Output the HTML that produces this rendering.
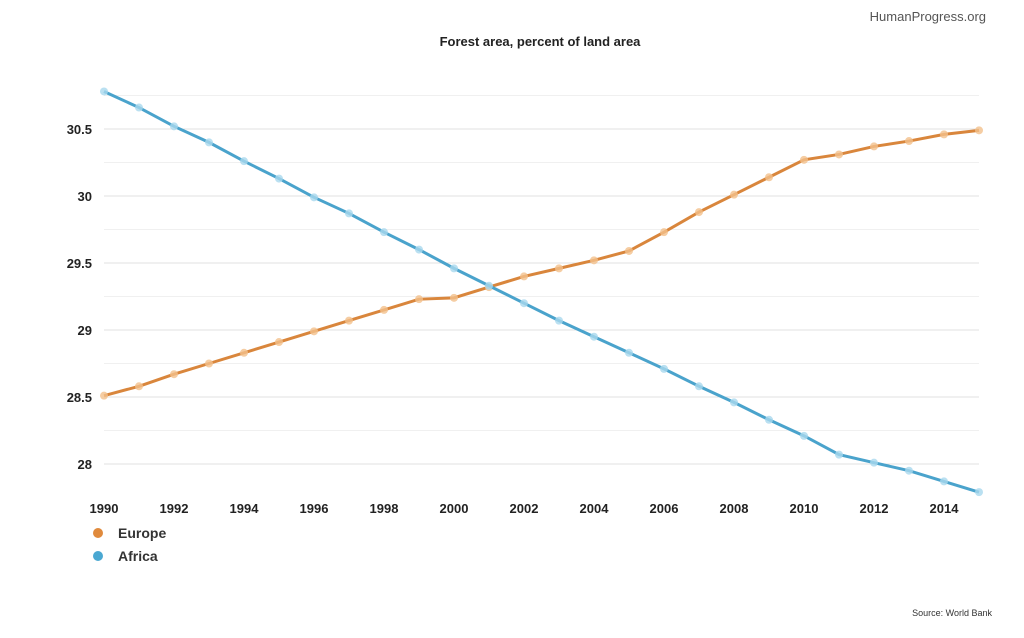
<!DOCTYPE html>
<html><head><meta charset="utf-8"><style>
body{margin:0;background:#fff;width:1024px;height:633px;overflow:hidden;font-family:"Liberation Sans",sans-serif}
</style></head><body>
<svg id="chart" width="1024" height="633" xmlns="http://www.w3.org/2000/svg">
<text x="986" y="21" text-anchor="end" font-size="13" fill="#555">HumanProgress.org</text>
<text x="540" y="46" text-anchor="middle" font-size="13" font-weight="bold" fill="#222">Forest area, percent of land area</text>
<g id="grid"></g><g id="axes"></g><g id="series"></g>
<g>
<circle cx="98" cy="533" r="5" fill="#e08a3c"/><text x="118" y="538" font-size="14" font-weight="bold" fill="#333">Europe</text>
<circle cx="98" cy="556" r="5" fill="#4aa8d2"/><text x="118" y="561" font-size="14" font-weight="bold" fill="#333">Africa</text>
</g>
<text x="992" y="616" text-anchor="end" font-size="9" fill="#333">Source: World Bank</text>
</svg>
<script>
const years=[1990,1991,1992,1993,1994,1995,1996,1997,1998,1999,2000,2001,2002,2003,2004,2005,2006,2007,2008,2009,2010,2011,2012,2013,2014,2015];
const europe=[28.51,28.58,28.67,28.75,28.83,28.91,28.99,29.07,29.15,29.23,29.24,29.32,29.40,29.46,29.52,29.59,29.73,29.88,30.01,30.14,30.27,30.31,30.37,30.41,30.46,30.49];
const africa=[30.78,30.66,30.52,30.40,30.26,30.13,29.99,29.87,29.73,29.60,29.46,29.33,29.20,29.07,28.95,28.83,28.71,28.58,28.46,28.33,28.21,28.07,28.01,27.95,27.87,27.79];
const yTicks=[28,28.5,29,29.5,30,30.5];
const yTickLabels=["28","28.5","29","29.5","30","30.5"];
const yMinor=[28.25,28.75,29.25,29.75,30.25,30.75];
const xTicks=[1990,1992,1994,1996,1998,2000,2002,2004,2006,2008,2010,2012,2014];
const NS="http://www.w3.org/2000/svg";
const X=v=>104+(v-1990)*35;
const Y=v=>464-(v-28)*134;
function mk(tag,attrs,parent,text){const e=document.createElementNS(NS,tag);for(const k in attrs)e.setAttribute(k,attrs[k]);if(text!==undefined)e.textContent=text;parent.appendChild(e);return e;}
const grid=document.getElementById('grid'),axes=document.getElementById('axes'),ser=document.getElementById('series');
yMinor.forEach(v=>{const l=mk('line',{x1:104,x2:979,y1:Y(v),y2:Y(v),stroke:'#f0f0f0','stroke-width':1},grid);

});
yTicks.forEach((v,i)=>{const l=mk('line',{x1:104,x2:979,y1:Y(v),y2:Y(v),stroke:'#e2e2e2','stroke-width':1},grid);


const t=mk('text',{x:92,y:Y(v)+5,'text-anchor':'end','font-size':13,'font-weight':'bold',fill:'#222'},axes,yTickLabels[i]);

});
xTicks.forEach(v=>{const t=mk('text',{x:X(v),y:513,'text-anchor':'middle','font-size':13,'font-weight':'bold',fill:'#222'},axes,String(v));

});
function draw(vals,color,light,name){
const p=mk('polyline',{points:vals.map((v,i)=>X(years[i])+','+Y(v)).join(' '),fill:'none',stroke:color,'stroke-width':3},ser);


vals.forEach((v,i)=>{const c=mk('circle',{cx:X(years[i]),cy:Y(v),r:4,fill:light,opacity:0.8},ser);

});}
draw(europe,'#d9863c','#f2c08c','europe');
draw(africa,'#4aa3cc','#a9d8ee','africa');
</script>
</body></html>
